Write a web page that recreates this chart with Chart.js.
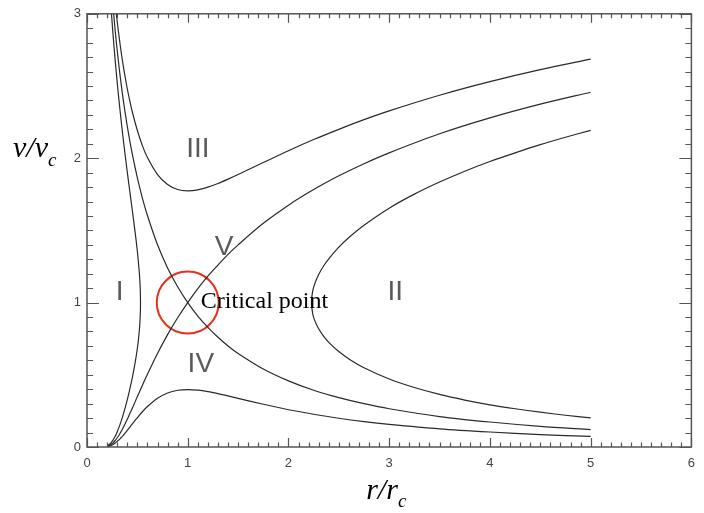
<!DOCTYPE html>
<html>
<head>
<meta charset="utf-8">
<script src="https://cdn.jsdelivr.net/npm/chart.js@4/dist/chart.umd.min.js"></script>
<style>
  html, body { margin: 0; padding: 0; background: #ffffff; }
  #wrap { width: 704px; height: 513px; position: relative; }
</style>
</head>
<body>
<div id="wrap"><canvas id="c" width="704" height="513"></canvas></div>
<script>
// ---- data (r/rc , v/vc) ----
const xTickLabels = ['0', '1', '2', '3', '4', '5', '6'];
const yTickLabels = ['0', '1', '2', '3'];

// region I (left, closed toward r ~ 0.53)
const curveI = [
  [0.24,3.029],[0.25,2.934],[0.26,2.843],[0.27,2.758],[0.28,2.676],[0.29,2.599],[0.30,2.524],
  [0.32,2.383],[0.34,2.253],[0.36,2.130],[0.38,2.015],[0.40,1.904],[0.42,1.796],[0.45,1.638],
  [0.48,1.474],[0.50,1.356],[0.51,1.282],[0.52,1.201],[0.525,1.149],[0.53,1.065],[0.531,1.0],
  [0.53,0.938],[0.525,0.860],[0.52,0.812],[0.51,0.740],[0.50,0.684],[0.48,0.593],[0.45,0.481],
  [0.42,0.386],[0.40,0.328],[0.38,0.275],[0.36,0.226],[0.34,0.181],[0.32,0.141],[0.30,0.105],
  [0.29,0.089],[0.28,0.075],[0.27,0.062],[0.26,0.050],[0.25,0.040],[0.24,0.031],[0.23,0.023],
  [0.22,0.017],[0.20,0.008]
];
// region II (right, turning at r ~ 2.23)
const curveII = [
  [5,2.193],[4.75,2.145],[4.5,2.094],[4.25,2.037],[4,1.977],[3.75,1.910],[3.5,1.835],[3.25,1.751],
  [3,1.654],[2.75,1.536],[2.6,1.451],[2.5,1.384],[2.4,1.303],[2.35,1.255],[2.3,1.194],[2.26,1.128],
  [2.24,1.078],[2.228,1.0],[2.24,0.925],[2.26,0.877],[2.3,0.819],[2.35,0.766],[2.4,0.725],
  [2.5,0.661],[2.6,0.610],[2.75,0.549],[3,0.471],[3.25,0.412],[3.5,0.364],[3.75,0.325],[4,0.292],
  [4.25,0.265],[4.5,0.241],[4.75,0.220],[5,0.202]
];
// region III (upper, minimum near r = 1)
const curveIII = [
  [0.29,3.007],[0.30,2.946],[0.32,2.833],[0.34,2.731],[0.36,2.639],[0.38,2.557],[0.40,2.481],
  [0.42,2.413],[0.45,2.320],[0.50,2.192],[0.55,2.087],[0.60,2.005],[0.70,1.887],[0.80,1.818],
  [0.90,1.783],[1.00,1.774],[1.10,1.781],[1.20,1.800],[1.30,1.825],[1.40,1.855],[1.50,1.887],
  [1.75,1.970],[2.00,2.052],[2.25,2.129],[2.50,2.200],[2.75,2.267],[3.00,2.328],[3.50,2.436],
  [4.00,2.530],[4.50,2.613],[5.00,2.686]
];
// region IV (lower, maximum near r = 1)
const curveIV = [
  [0.20,0.003],[0.22,0.006],[0.24,0.011],[0.26,0.018],[0.28,0.027],[0.30,0.039],[0.32,0.051],
  [0.34,0.066],[0.36,0.081],[0.38,0.098],[0.40,0.115],[0.42,0.133],[0.45,0.160],[0.50,0.203],
  [0.55,0.244],[0.60,0.280],[0.70,0.337],[0.80,0.374],[0.90,0.393],[1.00,0.398],[1.10,0.394],
  [1.20,0.384],[1.30,0.370],[1.40,0.354],[1.50,0.337],[1.75,0.296],[2.00,0.258],[2.25,0.227],
  [2.50,0.199],[2.75,0.176],[3.00,0.157],[3.50,0.126],[4.00,0.104],[4.50,0.086],[5.00,0.073]
];
// region V: critical (transonic) accelerating solution
const curveV = [
  [0.20,0.005],[0.22,0.010],[0.24,0.019],[0.26,0.030],[0.28,0.045],[0.30,0.064],[0.32,0.085],
  [0.34,0.109],[0.36,0.135],[0.38,0.163],[0.40,0.192],[0.42,0.223],[0.45,0.269],[0.50,0.349],
  [0.55,0.428],[0.60,0.504],[0.70,0.648],[0.80,0.778],[0.90,0.895],[1.00,1.000],[1.10,1.097],
  [1.20,1.183],[1.30,1.260],[1.40,1.334],[1.50,1.400],[1.75,1.549],[2.00,1.675],[2.25,1.783],
  [2.50,1.878],[2.75,1.962],[3.00,2.037],[3.50,2.169],[4.00,2.279],[4.50,2.374],[5.00,2.457]
];
// critical decelerating solution
const curveCritDown = [
  [0.26,3.036],[0.27,2.958],[0.28,2.883],[0.29,2.812],[0.30,2.746],[0.32,2.621],[0.34,2.508],
  [0.36,2.404],[0.38,2.309],[0.40,2.221],[0.42,2.139],[0.45,2.028],[0.50,1.864],[0.55,1.724],
  [0.60,1.603],[0.70,1.400],[0.80,1.240],[0.90,1.110],[1.00,1.000],[1.10,0.906],[1.20,0.828],
  [1.30,0.760],[1.40,0.700],[1.50,0.648],[1.75,0.540],[2.00,0.458],[2.25,0.393],[2.50,0.342],
  [2.75,0.300],[3.00,0.265],[3.50,0.211],[4.00,0.173],[4.50,0.143],[5.00,0.121]
];
const criticalPoint = [[1, 1]];

// region labels
const regionNames = ['I', 'II', 'III', 'IV', 'V'];
const regionR     = [0.325, 3.06, 1.10, 1.13, 1.36];
const regionV     = [1.07, 1.07, 2.06, 0.573, 1.38];
const noteText = 'Critical point';
const noteR = 1.13, noteV = 0.963;

const xTitle = ['r/r', 'c'];
const yTitle = ['v/v', 'c'];

// ---- chart ----
const toPts = a => a.map(p => ({x: p[0], y: p[1]}));
const lineDs = (a) => ({
  data: toPts(a), showLine: true, pointRadius: 0, pointHoverRadius: 0,
  borderColor: '#2a2a2a', borderWidth: 1.2, tension: 0.3, fill: false, clip: 0
});

const axisPlugin = {
  id: 'idlAxes',
  afterDatasetsDraw(chart) {
    const {ctx, chartArea: a, scales: {x, y}} = chart;
    ctx.save();
    // region labels
    ctx.fillStyle = '#5a5a5a';
    ctx.font = '28px "Liberation Sans"';
    ctx.textAlign = 'center';
    ctx.textBaseline = 'middle';
    regionNames.forEach((t, i) => {
      ctx.fillText(t, x.getPixelForValue(regionR[i]), y.getPixelForValue(regionV[i]));
    });
    ctx.fillStyle = '#000';
    ctx.font = '24px "Liberation Serif"';
    ctx.textAlign = 'left';
    ctx.textBaseline = 'alphabetic';
    ctx.fillText(noteText, x.getPixelForValue(noteR), y.getPixelForValue(noteV));

    // frame
    ctx.strokeStyle = '#555';
    ctx.lineWidth = 1.5;
    ctx.strokeRect(a.left, a.top, a.right - a.left, a.bottom - a.top);
    // inward ticks on all four sides
    ctx.lineWidth = 1.2;
    ctx.beginPath();
    for (let k = 0; k <= 60; k++) {
      const v = k / 10, px = Math.round(x.getPixelForValue(v)) + 0.5;
      const len = (k % 10 === 0) ? 9 : 4.5;
      ctx.moveTo(px, a.bottom); ctx.lineTo(px, a.bottom - len);
      ctx.moveTo(px, a.top); ctx.lineTo(px, a.top + len);
    }
    for (let k = 0; k <= 30; k++) {
      const v = k / 10, py = Math.round(y.getPixelForValue(v)) + 0.5;
      const len = (k % 10 === 0) ? 12 : 6;
      ctx.moveTo(a.left, py); ctx.lineTo(a.left + len, py);
      ctx.moveTo(a.right, py); ctx.lineTo(a.right - len, py);
    }
    ctx.stroke();

    // axis titles (italic serif with subscript)
    ctx.fillStyle = '#000';
    ctx.textAlign = 'left';
    ctx.textBaseline = 'alphabetic';
    ctx.font = 'italic 30px "Liberation Serif"';
    let w = ctx.measureText(yTitle[0]).width;
    ctx.fillText(yTitle[0], 13, 157);
    ctx.font = 'italic 19px "Liberation Serif"';
    ctx.fillText(yTitle[1], 13 + w, 166);
    ctx.font = 'italic 30px "Liberation Serif"';
    w = ctx.measureText(xTitle[0]).width;
    const x0 = (a.left + a.right) / 2 - 23;
    ctx.fillText(xTitle[0], x0, 499);
    ctx.font = 'italic 19px "Liberation Serif"';
    ctx.fillText(xTitle[1], x0 + w, 507);
    ctx.restore();
  }
};

new Chart(document.getElementById('c'), {
  type: 'scatter',
  data: {
    datasets: [
      lineDs(curveI), lineDs(curveII), lineDs(curveIII), lineDs(curveIV),
      lineDs(curveV), lineDs(curveCritDown),
      { data: toPts(criticalPoint), pointRadius: 31, pointHoverRadius: 31,
        pointBorderColor: '#e2311d', pointBackgroundColor: 'rgba(0,0,0,0)',
        pointBorderWidth: 2, showLine: false, clip: false }
    ]
  },
  plugins: [axisPlugin],
  options: {
    responsive: false,
    animation: false,
    events: [],
    layout: { autoPadding: false, padding: { top: 13, right: 6, left: 0, bottom: 0 } },
    plugins: { legend: { display: false }, tooltip: { enabled: false } },
    scales: {
      x: {
        type: 'linear', min: 0, max: 6,
        afterFit: s => { s.height = 66; },
        grid: { display: false, drawTicks: false },
        border: { display: false },
        ticks: { stepSize: 1, padding: 9, color: '#444',
                 font: { family: 'Liberation Sans', size: 13 },
                 callback: v => xTickLabels[Math.round(v)] },
      },
      y: {
        type: 'linear', min: 0, max: 3,
        afterFit: s => { s.width = 87; },
        grid: { display: false, drawTicks: false },
        border: { display: false },
        ticks: { stepSize: 1, padding: 6, color: '#444',
                 font: { family: 'Liberation Sans', size: 13 },
                 callback: v => yTickLabels[Math.round(v)] },
      }
    }
  }
});
</script>
</body>
</html>
